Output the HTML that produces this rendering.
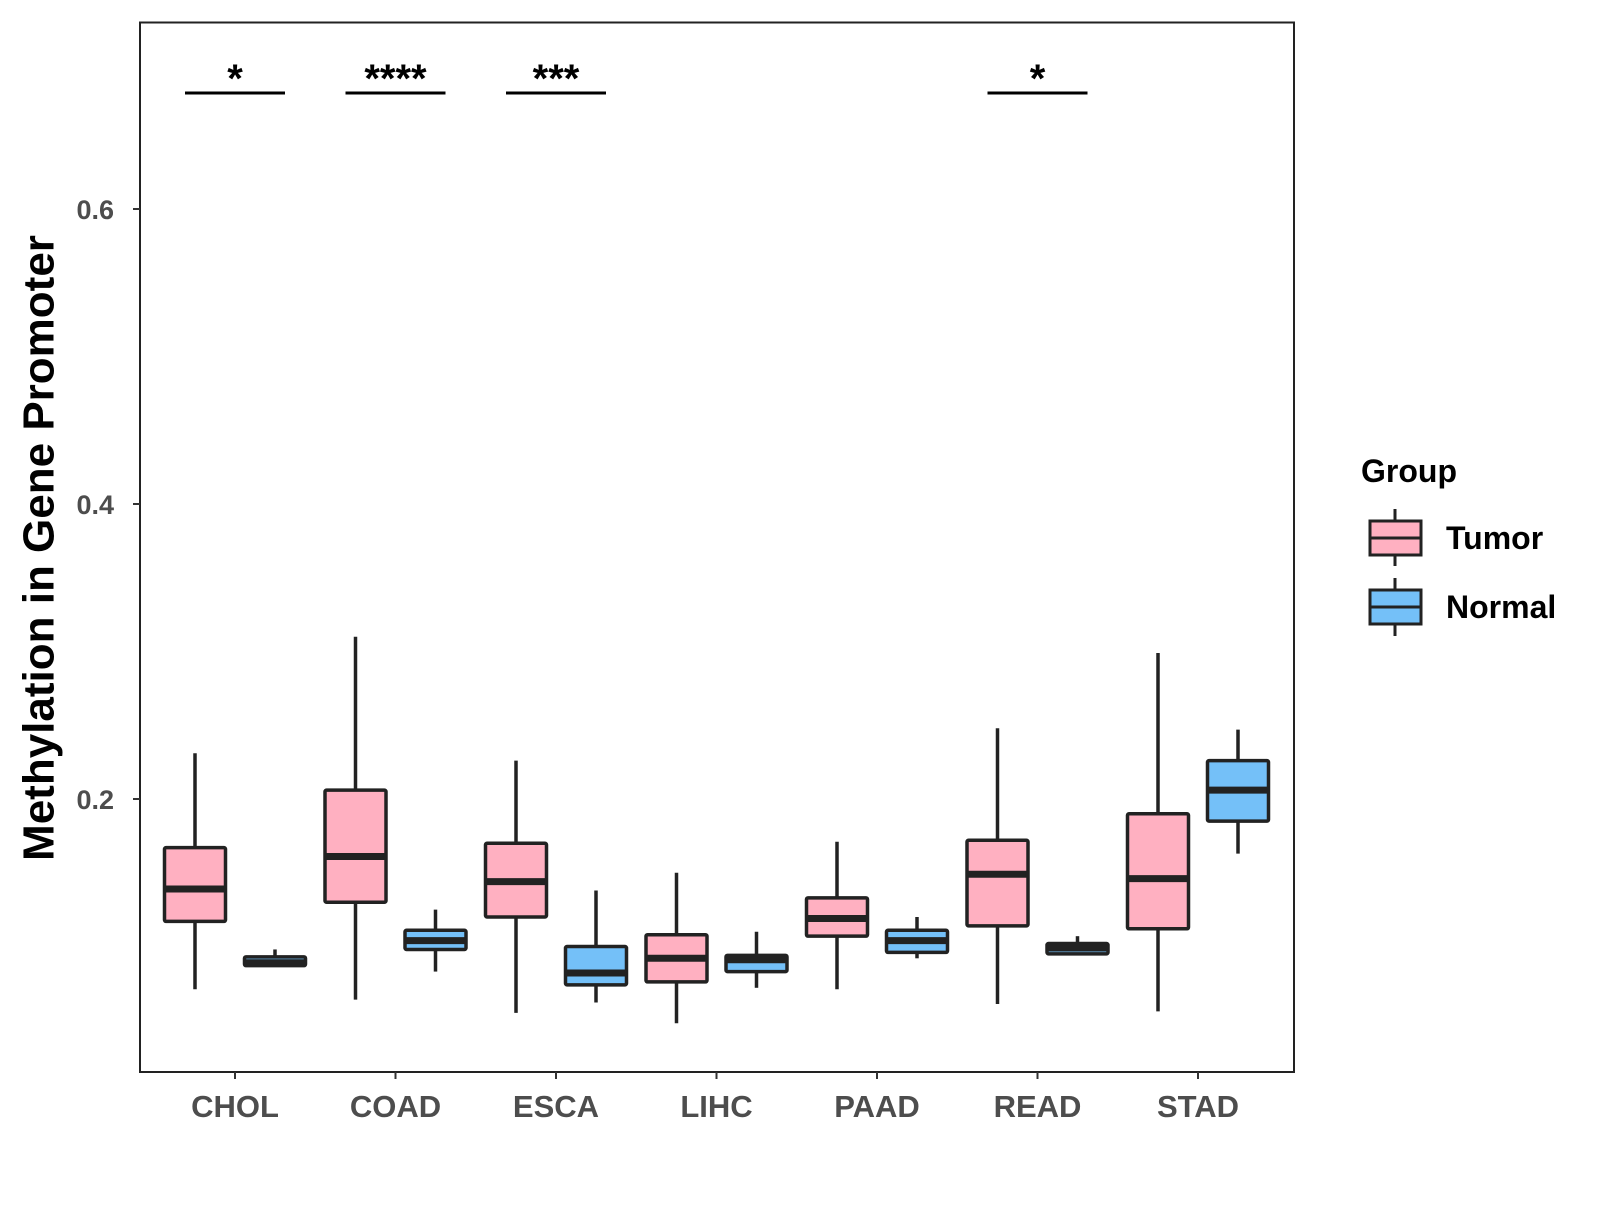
<!DOCTYPE html>
<html><head><meta charset="utf-8"><style>
body{margin:0;background:#fff}
text{font-family:"Liberation Sans",Arial,sans-serif;font-weight:bold}
</style></head><body>
<svg id="chart" width="1600" height="1200" xmlns="http://www.w3.org/2000/svg">
<rect x="140" y="22.5" width="1154" height="1049.5" fill="#fff" stroke="#222" stroke-width="2"/>
<g id="axes"></g><g id="boxes"></g><g id="sig"></g>
<text x="39" y="548" transform="rotate(-90 39 548)" text-anchor="middle" dominant-baseline="central" font-size="44" fill="#000">Methylation in Gene Promoter</text>
<g>
<text x="1361" y="482" font-size="32" fill="#000">Group</text>
<g>
<line x1="1395" y1="509" x2="1395" y2="566" stroke="#222" stroke-width="3"/>
<rect x="1370" y="521" width="51" height="34" fill="#FFB0C1" stroke="#222" stroke-width="3"/>
<line x1="1370" y1="538" x2="1421" y2="538" stroke="#222" stroke-width="3"/>
<text x="1446" y="549" font-size="32" fill="#000">Tumor</text></g>
<g>
<line x1="1395" y1="578" x2="1395" y2="636" stroke="#222" stroke-width="3"/>
<rect x="1370" y="590" width="51" height="34" fill="#74C0F8" stroke="#222" stroke-width="3"/>
<line x1="1370" y1="607" x2="1421" y2="607" stroke="#222" stroke-width="3"/>
<text x="1446" y="618" font-size="32" fill="#000">Normal</text></g>
</g>
</svg>
<script>
const categories=["CHOL","COAD","ESCA","LIHC","PAAD","READ","STAD"];
const tumorStats=[[0.071,0.117,0.139,0.167,0.231],[0.064,0.130,0.161,0.206,0.310],[0.055,0.120,0.144,0.170,0.226],[0.048,0.076,0.092,0.108,0.150],[0.071,0.107,0.119,0.133,0.171],[0.061,0.114,0.149,0.172,0.248],[0.056,0.112,0.146,0.190,0.299]];
const normalStats=[[0.087,0.087,0.089,0.093,0.098],[0.083,0.098,0.104,0.111,0.125],[0.062,0.074,0.082,0.100,0.138],[0.072,0.083,0.091,0.094,0.110],[0.092,0.096,0.104,0.111,0.120],[0.095,0.095,0.099,0.102,0.107],[0.163,0.185,0.206,0.226,0.247]];
const yTicks=[0.2,0.4,0.6];
const sigCats=["CHOL","COAD","ESCA","READ"];
const sigLabels=["*","****","***","*"];
const NS="http://www.w3.org/2000/svg";
const y=v=>799-(v-0.2)*1475;
const x=i=>235+i*160.5;
function mk(p,t,a){const e=document.createElementNS(NS,t);for(const k in a)e.setAttribute(k,a[k]);p.appendChild(e);return e;}
const ax=document.getElementById('axes'),bx=document.getElementById('boxes'),sg=document.getElementById('sig');
yTicks.forEach(v=>{
 const l=mk(ax,'line',{x1:133,x2:140,y1:y(v),y2:y(v),stroke:'#333','stroke-width':2});
 
 
 const t=mk(ax,'text',{x:114,y:y(v)+10,'text-anchor':'end','font-size':27,fill:'#4d4d4d'});t.textContent=v.toFixed(1);
 
 
});
categories.forEach((c,i)=>{
 const l=mk(ax,'line',{x1:x(i),x2:x(i),y1:1072,y2:1079,stroke:'#333','stroke-width':2});
 
 
 const t=mk(ax,'text',{x:x(i),y:1117,'text-anchor':'middle','font-size':31,fill:'#4d4d4d'});t.textContent=c;
 
 
 [[tumorStats[i],-40,'#FFB0C1','tumor'],[normalStats[i],40,'#74C0F8','normal']].forEach(([s,dx,col,nm])=>{
  const cx=x(i)+dx,w=61;
  const g=mk(bx,'g',{});
  
  
  mk(g,'line',{x1:cx,x2:cx,y1:y(s[4]),y2:y(s[0]),stroke:'#222','stroke-width':3.5});
  mk(g,'rect',{x:cx-w/2,y:y(s[3]),width:w,height:Math.max(y(s[1])-y(s[3]),0.5),fill:col,stroke:'#222','stroke-width':3.5,rx:1.5});
  mk(g,'line',{x1:cx-w/2,x2:cx+w/2,y1:y(s[2]),y2:y(s[2]),stroke:'#222','stroke-width':7});
 });
});
sigCats.forEach((c,k)=>{
 const i=categories.indexOf(c);
 const l=mk(sg,'line',{x1:x(i)-50,x2:x(i)+50,y1:93,y2:93,stroke:'#000','stroke-width':3});
 
 
 const t=mk(sg,'text',{x:x(i),y:92,'text-anchor':'middle','font-size':40,fill:'#000'});t.textContent=sigLabels[k];
 
 
});
</script>
</body></html>
